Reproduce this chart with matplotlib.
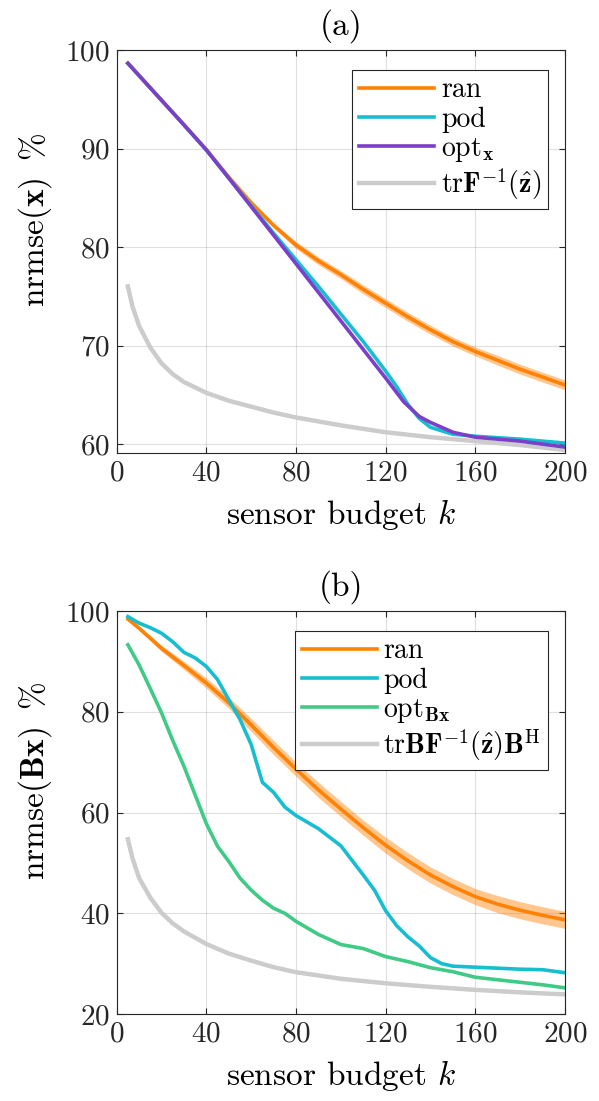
import matplotlib
matplotlib.use("Agg")
import matplotlib.pyplot as plt

plt.rcParams["font.family"] = "serif"
plt.rcParams["font.serif"] = ["cmr10"]
plt.rcParams["mathtext.fontset"] = "cm"
plt.rcParams["axes.formatter.use_mathtext"] = True

# colours
c_ran = "#ff8205"
c_pod = "#17bed0"
c_opt_x = "#7b3fc9"
c_opt_bx = "#3fcb86"
c_crb = "#cccccc"

# ---- panel (a): nrmse(x)
k_ran_a = [5, 10, 20, 30, 40, 50, 60, 70, 80, 90, 100, 110, 120, 130, 140, 150, 160, 170, 180, 190, 200]
ran_a = [98.65, 97.4, 94.9, 92.4, 89.9, 87.1, 84.5, 82.2, 80.2, 78.6, 77.2, 75.7, 74.3, 72.9, 71.6, 70.4, 69.4, 68.5, 67.6, 66.8, 66.0]
ran_a_lo = [98.65, 97.4, 94.85, 92.3, 89.8, 86.95, 84.3, 81.95, 79.85, 78.2, 76.8, 75.25, 73.85, 72.45, 71.15, 69.95, 68.95, 68.0, 67.1, 66.3, 65.5]
ran_a_hi = [98.65, 97.4, 94.95, 92.5, 90.0, 87.25, 84.7, 82.45, 80.55, 79.0, 77.6, 76.15, 74.75, 73.35, 72.05, 70.85, 69.85, 69.0, 68.1, 67.3, 66.5]

k_pod_a = [5, 10, 20, 30, 40, 50, 60, 70, 80, 90, 100, 110, 120, 125, 130, 135, 140, 150, 160, 170, 180, 190, 200]
pod_a = [98.65, 97.4, 94.9, 92.4, 89.85, 87.0, 84.2, 81.4, 78.7, 76.0, 73.2, 70.4, 67.4, 65.8, 64.0, 62.6, 61.7, 61.0, 60.8, 60.65, 60.5, 60.3, 60.1]

k_opt_a = [5, 10, 20, 30, 40, 50, 60, 70, 80, 90, 100, 110, 120, 128, 135, 140, 150, 160, 170, 180, 190, 200]
opt_a = [98.65, 97.4, 94.9, 92.4, 89.85, 87.0, 84.1, 81.2, 78.3, 75.4, 72.5, 69.6, 66.7, 64.3, 62.8, 62.2, 61.2, 60.7, 60.5, 60.3, 60.0, 59.7]

k_crb_a = [5, 7, 10, 15, 20, 25, 30, 40, 50, 60, 70, 80, 100, 120, 140, 160, 180, 200]
crb_a = [76.0, 74.0, 72.0, 69.8, 68.2, 67.1, 66.3, 65.2, 64.4, 63.8, 63.2, 62.7, 61.9, 61.2, 60.7, 60.3, 59.9, 59.4]

# ---- panel (b): nrmse(Bx)
k_ran_b = [5, 10, 20, 30, 40, 50, 60, 70, 80, 90, 100, 110, 120, 130, 140, 150, 160, 170, 180, 190, 200]
ran_b = [98.4, 96.6, 92.6, 89.2, 85.7, 81.8, 77.4, 72.9, 68.6, 64.5, 60.7, 57.0, 53.5, 50.4, 47.6, 45.3, 43.3, 41.8, 40.6, 39.6, 38.7]
ran_b_lo = [98.1, 96.2, 92.0, 88.4, 84.7, 80.7, 76.1, 71.5, 67.2, 63.0, 59.2, 55.5, 51.9, 48.8, 46.0, 43.7, 41.7, 40.1, 38.9, 37.9, 37.0]
ran_b_hi = [98.7, 97.0, 93.2, 90.0, 86.7, 82.9, 78.7, 74.3, 70.0, 66.0, 62.2, 58.5, 55.1, 52.0, 49.2, 46.9, 44.9, 43.5, 42.3, 41.3, 40.4]

k_pod_b = [5, 10, 15, 20, 25, 30, 35, 40, 45, 50, 55, 60, 63, 65, 70, 75, 80, 90, 100, 110, 115, 120, 125, 130, 135, 140, 145, 150, 160, 170, 180, 190, 200]
pod_b = [98.9, 97.6, 96.7, 95.6, 93.9, 91.8, 90.7, 89.0, 86.4, 82.4, 78.5, 73.5, 69.0, 66.0, 64.0, 61.1, 59.4, 56.8, 53.4, 47.6, 44.6, 40.5, 37.5, 35.3, 33.5, 31.2, 30.0, 29.5, 29.3, 29.1, 28.9, 28.8, 28.2]

k_opt_b = [5, 10, 15, 20, 25, 30, 35, 40, 45, 50, 55, 60, 65, 70, 75, 80, 90, 100, 110, 120, 130, 140, 150, 160, 170, 180, 190, 200]
opt_b = [93.3, 89.3, 84.6, 79.8, 74.3, 69.2, 63.5, 57.8, 53.3, 50.3, 47.0, 44.6, 42.6, 41.0, 40.0, 38.4, 35.8, 33.8, 33.0, 31.4, 30.4, 29.2, 28.4, 27.3, 26.8, 26.3, 25.8, 25.2]

k_crb_b = [5, 7, 10, 15, 20, 25, 30, 40, 50, 60, 70, 80, 100, 120, 140, 160, 180, 200]
crb_b = [54.7, 51.0, 47.0, 43.1, 40.1, 38.0, 36.4, 33.9, 32.0, 30.6, 29.3, 28.3, 27.0, 26.1, 25.4, 24.8, 24.3, 23.9]

x_ticks = [0, 40, 80, 120, 160, 200]

fig = plt.figure(figsize=(5.99, 11.01), dpi=100)
ax_a = fig.add_axes([0.1948, 0.5886, 0.7484, 0.366])
ax_b = fig.add_axes([0.1948, 0.0790, 0.7484, 0.366])

lw = 2.6
fs_tick = 21
fs_label = 24
fs_leg = 20


def style_axes(ax, ylim, yticks, ylabel, title):
    ax.set_xlim(0, 200)
    ax.set_ylim(*ylim)
    ax.set_xticks(x_ticks)
    ax.set_yticks(yticks)
    ax.grid(True, color="#000000", alpha=0.12, linewidth=0.8)
    ax.set_axisbelow(True)
    ax.tick_params(direction="in", top=True, right=True, labelsize=fs_tick,
                   length=4, width=0.8, colors="#262626", pad=5)
    for sp in ax.spines.values():
        sp.set_color("#262626")
        sp.set_linewidth(0.8)
    ax.set_xlabel(r"sensor budget $k$", fontsize=fs_label, labelpad=8)
    ax.set_ylabel(ylabel, fontsize=fs_label)
    ax.yaxis.set_label_coords(-0.14, 0.58)
    ax.set_title(title, fontsize=fs_label, pad=11)
    leg = ax.legend(loc="upper right", bbox_to_anchor=(0.962, 0.95),
                    fontsize=fs_leg, frameon=True, fancybox=False,
                    framealpha=1, edgecolor="#262626", handlelength=2.7,
                    handletextpad=0.25, borderpad=0.25, labelspacing=0.1,
                    borderaxespad=0)
    leg.get_frame().set_linewidth(0.8)


# (a)
ax_a.fill_between(k_ran_a, ran_a_lo, ran_a_hi, color=c_ran, alpha=0.45, linewidth=0)
ax_a.plot(k_crb_a, crb_a, color=c_crb, linewidth=lw + 0.6, label=None)
ax_a.plot(k_ran_a, ran_a, color=c_ran, linewidth=lw, label="ran")
ax_a.plot(k_pod_a, pod_a, color=c_pod, linewidth=lw, label="pod")
ax_a.plot(k_opt_a, opt_a, color=c_opt_x, linewidth=lw, label=r"$\mathrm{opt}_{\mathbf{x}}$")
ax_a.plot([], [], color=c_crb, linewidth=lw + 0.6, label=r"$\mathrm{tr}\mathbf{F}^{-1}(\hat{\mathbf{z}})$")
style_axes(ax_a, (59.1, 100), [60, 70, 80, 90, 100],
           r"$\mathrm{nrmse}(\mathbf{x})\;\;\%$", "(a)")

# (b)
ax_b.fill_between(k_ran_b, ran_b_lo, ran_b_hi, color=c_ran, alpha=0.45, linewidth=0)
ax_b.plot(k_crb_b, crb_b, color=c_crb, linewidth=lw + 0.6, label=None)
ax_b.plot(k_ran_b, ran_b, color=c_ran, linewidth=lw, label="ran")
ax_b.plot(k_pod_b, pod_b, color=c_pod, linewidth=lw, label="pod")
ax_b.plot(k_opt_b, opt_b, color=c_opt_bx, linewidth=lw, label=r"$\mathrm{opt}_{\mathbf{Bx}}$")
ax_b.plot([], [], color=c_crb, linewidth=lw + 0.6,
          label=r"$\mathrm{tr}\mathbf{B}\mathbf{F}^{-1}(\hat{\mathbf{z}})\mathbf{B}^{\mathrm{H}}$")
style_axes(ax_b, (20, 100), [20, 40, 60, 80, 100],
           r"$\mathrm{nrmse}(\mathbf{Bx})\;\;\%$", "(b)")

fig.savefig("out.png", dpi=100)
